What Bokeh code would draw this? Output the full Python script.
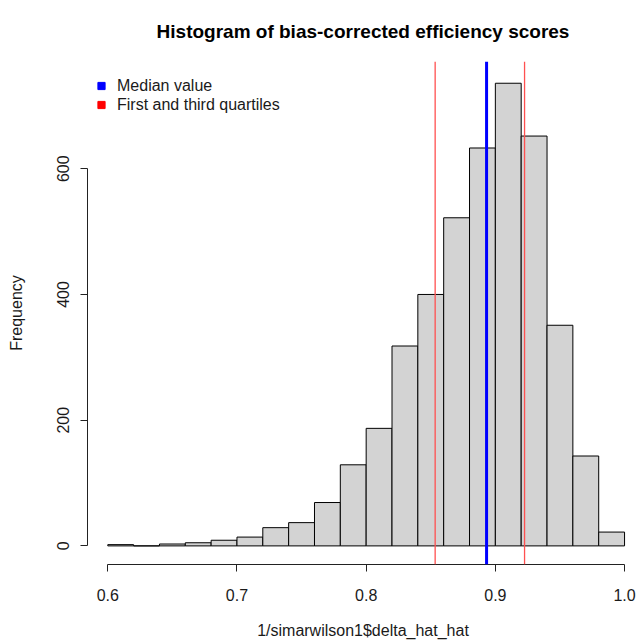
from bokeh.plotting import figure
from bokeh.models import Span, Legend, LegendItem, FixedTicker, Range1d, Title
from bokeh.embed import file_html
from bokeh.resources import INLINE

# ---- data ----
bin_left = [0.60, 0.62, 0.64, 0.66, 0.68, 0.70, 0.72, 0.74, 0.76, 0.78,
            0.80, 0.82, 0.84, 0.86, 0.88, 0.90, 0.92, 0.94, 0.96, 0.98]
bin_width = 0.02
counts = [2, 0, 3, 5, 9, 14, 29, 37, 69, 129,
          187, 318, 400, 522, 633, 736, 652, 351, 143, 22]
median_value = 0.8932
quartiles = [0.8534, 0.9226]
x_ticks = [0.6, 0.7, 0.8, 0.9, 1.0]
x_tick_labels = ["0.6", "0.7", "0.8", "0.9", "1.0"]
y_ticks = [0, 200, 400, 600]
y_tick_labels = ["0", "200", "400", "600"]
title_text = "Histogram of bias-corrected efficiency scores"
x_label = "1/simarwilson1$delta_hat_hat"
y_label = "Frequency"
legend_labels = ["Median value", "First and third quartiles"]

FONT = "Liberation Sans"
TXT = "#1a1a1a"

p = figure(width=638, height=641, output_backend="svg", toolbar_location=None,
           x_range=Range1d(0.5843, 1.0108), y_range=Range1d(-29.6, 770.6),
           min_border_left=87, min_border_right=0, min_border_top=61,
           min_border_bottom=77)
p.frame_width = 551
p.frame_height = 503
p.outline_line_color = None
p.grid.visible = False
p.background_fill_color = "white"
p.border_fill_color = "white"

bin_right = [b + bin_width for b in bin_left]
p.quad(left=bin_left, right=bin_right, bottom=0, top=counts,
       fill_color="#D3D3D3", line_color="black", line_width=1)

for q in quartiles:
    p.add_layout(Span(location=q, dimension="height", line_color="#FF5050",
                      line_width=1.3))
p.add_layout(Span(location=median_value, dimension="height",
                  line_color="blue", line_width=3))

# axes styled like R base graphics
xa = p.xaxis[0]
xa.ticker = FixedTicker(ticks=x_ticks)
xa.major_label_overrides = {t: l for t, l in zip(x_ticks, x_tick_labels)}
xa.bounds = (x_ticks[0], x_ticks[-1])
ya = p.yaxis[0]
ya.ticker = FixedTicker(ticks=y_ticks)
ya.major_label_overrides = {t: l for t, l in zip(y_ticks, y_tick_labels)}
ya.bounds = (y_ticks[0], y_ticks[-1])
ya.major_label_orientation = "vertical"
for ax in (xa, ya):
    ax.axis_line_color = "#222222"
    ax.major_tick_line_color = "#222222"
    ax.major_tick_out = 7
    ax.major_tick_in = 0
    ax.minor_tick_line_color = None
    ax.major_label_text_font = FONT
    ax.major_label_text_font_size = "16px"
    ax.major_label_text_color = TXT
    ax.axis_label_text_font = FONT
    ax.axis_label_text_font_size = "16px"
    ax.axis_label_text_font_style = "normal"
    ax.axis_label_text_color = TXT
xa.axis_label = x_label
ya.axis_label = y_label
xa.major_label_standoff = 17
xa.axis_label_standoff = 18
ya.major_label_standoff = 11
ya.axis_label_standoff = 30

t = Title(text=title_text, align="center", vertical_align="top",
          text_font=FONT, text_font_size="19px", text_font_style="bold",
          text_color="black", standoff=36, offset=5)
p.add_layout(t, "above")

# legend (the keys are drawn from renderers whose points are not plotted)
nan = float("nan")
r_med = p.scatter(x=[median_value], y=[nan], marker="square", color="blue", size=8)
r_q = p.scatter(x=quartiles, y=[nan, nan], marker="square", color="red", size=8)
legend = Legend(items=[LegendItem(label=legend_labels[0], renderers=[r_med]),
                       LegendItem(label=legend_labels[1], renderers=[r_q])],
                location=(5, 450), padding=0, margin=0, spacing=0,
                glyph_width=18, glyph_height=19, label_height=19,
                label_standoff=7, border_line_color=None,
                background_fill_alpha=0, label_text_font=FONT,
                label_text_font_size="16px", label_text_color=TXT)
p.add_layout(legend, "center")

open("out.html", "w").write(file_html(p, INLINE))
